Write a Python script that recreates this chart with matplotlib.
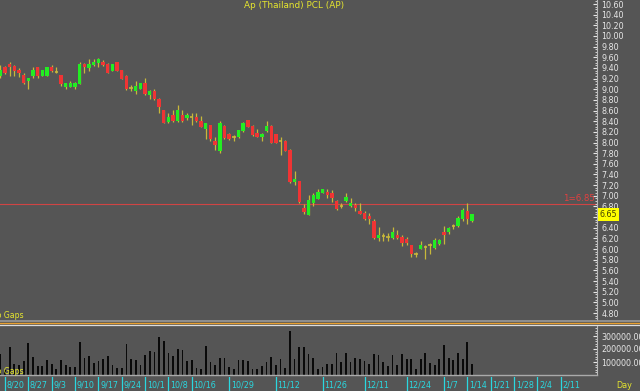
import numpy as np
import matplotlib
matplotlib.use("Agg")
import matplotlib.pyplot as plt
from matplotlib.lines import Line2D

# --- Data ---------------------------------------------------------------------
# trading-day index (0 = 8/20)
days = list(range(-1, 101))

opens = [9.25, 9.41, 9.47, 9.43, 9.36, 9.27, 9.16, 9.25, 9.41, 9.25, 9.25, 9.41, 9.33,
         9.27, 9.04, 9.04, 9.04, 9.10, 9.47, 9.39, 9.46, 9.49, 9.52, 9.47, 9.34, 9.52,
         9.36, 9.25, 9.03, 8.96, 9.00, 9.11, 8.89, 8.96, 8.82, 8.61, 8.39, 8.51, 8.41,
         8.51, 8.46, 8.48, 8.47, 8.41, 8.25, 8.32, 8.02, 7.85, 8.31, 8.16, 8.10, 8.10,
         8.21, 8.43, 8.31, 8.17, 8.10, 8.21, 8.31, 8.16, 8.02, 8.02, 7.86, 7.25, 7.27,
         6.77, 6.64, 6.86, 6.94, 7.06, 7.08, 7.06, 6.91, 6.81, 6.91, 6.80, 6.83, 6.72,
         6.68, 6.63, 6.52, 6.21, 6.24, 6.23, 6.21, 6.27, 6.23, 6.18, 6.07, 5.91, 6.01,
         6.04, 6.08, 6.02, 6.09, 6.32, 6.33, 6.44, 6.44, 6.57, 6.72, 6.52]
highs = [9.46, 9.43, 9.52, 9.46, 9.39, 9.30, 9.22, 9.41, 9.42, 9.36, 9.41, 9.46, 9.42,
         9.27, 9.12, 9.16, 9.14, 9.52, 9.49, 9.56, 9.56, 9.58, 9.55, 9.50, 9.47, 9.52,
         9.36, 9.27, 9.08, 9.16, 9.12, 9.21, 8.98, 9.00, 8.83, 8.61, 8.55, 8.61, 8.71,
         8.61, 8.55, 8.55, 8.55, 8.50, 8.37, 8.33, 8.11, 8.41, 8.33, 8.17, 8.14, 8.24,
         8.38, 8.43, 8.33, 8.25, 8.17, 8.41, 8.33, 8.16, 8.11, 8.04, 7.87, 7.46, 7.28,
         6.85, 7.02, 7.05, 7.12, 7.13, 7.12, 7.11, 6.92, 6.86, 7.06, 6.96, 6.86, 6.86,
         6.71, 6.68, 6.56, 6.41, 6.31, 6.31, 6.41, 6.36, 6.27, 6.23, 6.08, 5.95, 6.16,
         6.08, 6.12, 6.21, 6.19, 6.43, 6.41, 6.48, 6.62, 6.78, 6.86, 6.66]
lows = [9.21, 9.29, 9.25, 9.25, 9.23, 9.09, 9.00, 9.21, 9.21, 9.25, 9.25, 9.33, 9.31,
        9.06, 9.00, 9.04, 9.00, 9.10, 9.31, 9.35, 9.43, 9.41, 9.43, 9.30, 9.34, 9.34,
        9.19, 8.99, 8.96, 8.91, 9.00, 8.90, 8.81, 8.80, 8.56, 8.36, 8.36, 8.39, 8.39,
        8.39, 8.42, 8.33, 8.39, 8.29, 8.06, 8.02, 7.86, 7.81, 8.06, 8.04, 8.02, 8.08,
        8.20, 8.29, 8.12, 8.10, 8.02, 8.19, 8.00, 8.00, 7.77, 7.84, 7.24, 7.21, 6.87,
        6.66, 6.64, 6.81, 6.94, 7.05, 6.96, 6.88, 6.74, 6.77, 6.89, 6.79, 6.71, 6.65,
        6.55, 6.48, 6.19, 6.16, 6.16, 6.16, 6.18, 6.19, 6.06, 6.08, 5.86, 5.86, 6.00,
        5.82, 5.91, 6.00, 6.07, 6.09, 6.28, 6.37, 6.42, 6.53, 6.47, 6.50]
closes = [9.36, 9.30, 9.41, 9.35, 9.30, 9.11, 9.22, 9.36, 9.25, 9.36, 9.41, 9.35, 9.33,
          9.10, 9.11, 9.11, 9.11, 9.47, 9.41, 9.47, 9.52, 9.56, 9.46, 9.30, 9.47, 9.34,
          9.19, 9.00, 9.03, 9.07, 9.12, 8.91, 8.97, 8.81, 8.66, 8.36, 8.47, 8.41, 8.61,
          8.41, 8.51, 8.48, 8.41, 8.30, 8.36, 8.06, 7.96, 8.36, 8.08, 8.06, 8.10, 8.23,
          8.37, 8.30, 8.14, 8.11, 8.16, 8.31, 8.00, 8.00, 8.02, 7.85, 7.25, 7.31, 6.89,
          6.69, 6.92, 7.02, 7.08, 7.12, 7.02, 6.96, 6.75, 6.81, 6.97, 6.86, 6.77, 6.66,
          6.56, 6.57, 6.21, 6.27, 6.24, 6.23, 6.32, 6.21, 6.11, 6.11, 5.91, 5.91, 6.07,
          6.04, 6.08, 6.17, 6.17, 6.27, 6.39, 6.44, 6.59, 6.74, 6.57, 6.65]
volumes = [159, 40, 218, 82, 74, 108, 249, 138, 69, 69, 113, 87, 49, 115, 74, 62, 62,
           254, 133, 146, 95, 105, 121, 146, 74, 51, 51, 241, 126, 115, 77, 154, 185,
           179, 292, 262, 167, 146, 203, 190, 108, 115, 56, 49, 221, 103, 74, 128, 128,
           64, 44, 115, 115, 108, 49, 44, 69, 100, 141, 77, 121, 56, 338, 126, 218, 218,
           159, 128, 49, 64, 82, 82, 172, 103, 167, 100, 133, 121, 108, 82, 164, 151,
           100, 69, 154, 74, 159, 121, 121, 44, 121, 172, 90, 77, 121, 228, 133, 115,
           167, 126, 254, 87]  # thousands of shares

tick_labels = ['8/20', '8/27', '9/3', '9/10', '9/17', '9/24', '10/1', '10/8', '10/16',
               '10/29', '11/12', '11/26', '12/11', '12/24', '1/7', '1/14', '1/21',
               '1/28', '2/4', '2/11']
tick_days = [0, 5, 10, 15, 20, 25, 30, 35, 40, 48, 58, 68, 77, 86, 94, 99, 104,
             109, 114, 119]

price_ticks = np.round(np.arange(4.8, 10.61, 0.2), 2)
vol_ticks = [100000, 200000, 300000]
last_price = 6.65
line_level = 6.85

# --- Styling ------------------------------------------------------------------
BG = '#555555'
UP = '#22ee22'
DOWN = '#f03434'
WICK = '#c8b83a'
YELLOW = '#e6e62e'
CYAN = '#2ad8e0'
LABEL = '#e6e6e6'
FS = 5.8

W, H = 640.0, 391.0
fig = plt.figure(figsize=(6.4, 3.91), dpi=100, facecolor=BG)

def rect(x0, y0, x1, y1):
    return [x0 / W, 1 - y1 / H, (x1 - x0) / W, (y1 - y0) / H]

xlim = (-5 / 4.67, (597 - 5) / 4.67)

ax_p = fig.add_axes(rect(0, 0, 597, 320), facecolor=BG)
ax_v = fig.add_axes(rect(0, 326, 597, 375), facecolor=BG)
ax_d = fig.add_axes(rect(0, 377, 597, 391), facecolor=BG)

x = np.array(days)
o = np.array(opens); h = np.array(highs); l = np.array(lows); c = np.array(closes)

# --- Price candles ------------------------------------------------------------
ax_p.vlines(x, l, h, colors=WICK, lw=0.9, zorder=2)
body_lo = np.minimum(o, c)
body_h = np.abs(c - o)
colors = [UP if cc > oo else DOWN for oo, cc in zip(o, c)]
is_body = body_h > 0.001
ax_p.bar(x[is_body], body_h[is_body], bottom=body_lo[is_body], width=0.72,
         color=np.array(colors)[is_body], linewidth=0, zorder=3)
doji = ~is_body
ax_p.hlines(o[doji], x[doji] - 0.36, x[doji] + 0.36, colors=WICK, lw=1.2, zorder=3)

ax_p.axhline(line_level, color='#d04444', lw=0.8, zorder=1)
ax_p.text(0.997, line_level + 0.015, '1=6.85', transform=ax_p.get_yaxis_transform(),
          ha='right', va='bottom', color='#e24040', fontsize=6.2)

ax_p.set_xlim(*xlim)
ax_p.set_ylim(10.60 - (320 - 4) / 53.28, 10.60 + 4 / 53.28)
ax_p.set_yticks(price_ticks)
ax_p.set_yticklabels([f'{v:.2f}' for v in price_ticks])
ax_p.set_yticks(np.arange(4.7, 10.7, 0.05), minor=True)
ax_p.yaxis.tick_right()
ax_p.tick_params(axis='y', which='major', colors=LABEL, labelsize=FS, length=3,
                 direction='in', pad=3)
ax_p.tick_params(axis='y', which='minor', colors=LABEL, length=1.5, direction='in')
ax_p.set_xticks([])
for s in ['left', 'top', 'bottom']:
    ax_p.spines[s].set_visible(False)
ax_p.spines['right'].set_color('#bbbbbb')
ax_p.spines['right'].set_linewidth(0.8)

ax_p.text(1.004, last_price, f'{last_price:.2f}', transform=ax_p.get_yaxis_transform(),
          ha='left', va='center', fontsize=FS, color='#444400', zorder=10, clip_on=False,
          bbox=dict(boxstyle='square,pad=0.2', fc='#ffff00', ec='none'))

fig.text(294 / W, 1 - 5 / H, 'Ap (Thailand) PCL (AP)', ha='center', va='center',
         color=YELLOW, fontsize=6.4)
fig.text(24 / W, 1 - 316 / H, 'No Gaps', ha='right', va='center', color=YELLOW,
         fontsize=5.6)

# --- Volume -------------------------------------------------------------------
ax_v.bar(x, np.array(volumes) * 1000, width=0.38, color='#0a0a0a', linewidth=0)
ax_v.set_xlim(*xlim)
ax_v.set_ylim(0, (375 - 326) / 13.0 * 1e5)
ax_v.set_yticks(vol_ticks)
ax_v.set_yticklabels([f'{v:.2f}' for v in vol_ticks])
ax_v.set_yticks(np.arange(20000, 380000, 20000), minor=True)
ax_v.yaxis.tick_right()
ax_v.tick_params(axis='y', which='major', colors=LABEL, labelsize=FS, length=3,
                 direction='in', pad=3)
ax_v.tick_params(axis='y', which='minor', colors=LABEL, length=1.5, direction='in')
ax_v.set_xticks([])
for s in ['left', 'top']:
    ax_v.spines[s].set_visible(False)
ax_v.spines['right'].set_color('#bbbbbb')
ax_v.spines['right'].set_linewidth(0.8)
ax_v.spines['bottom'].set_color('#aaaaaa')
ax_v.spines['bottom'].set_linewidth(1.0)
ax_v.text(294, 0.86, 'Volume', transform=ax_v.get_xaxis_transform(),
          ha='center', va='center', color='#e8a030', fontsize=6.4)
fig.text(24 / W, 1 - 372 / H, 'No Gaps', ha='right', va='center', color=YELLOW,
         fontsize=5.6)

# panel splitter
for yy, col, lw in [(321.0, '#9a9a9a', 1.2), (323.2, '#e8a030', 1.0), (325.0, '#dddddd', 0.9)]:
    fig.add_artist(Line2D([0, 1], [1 - yy / H, 1 - yy / H], transform=fig.transFigure,
                          color=col, lw=lw))

# --- Date strip ---------------------------------------------------------------
ax_d.set_xlim(*xlim)
ax_d.set_ylim(0, 1)
ax_d.axis('off')
for pos, lab in zip(tick_days, tick_labels):
    ax_d.axvline(pos, color=CYAN, lw=0.9)
    ax_d.text(pos + 0.35, 0.45, lab, ha='left', va='center', color=CYAN, fontsize=FS)
fig.text(616 / W, 1 - 385 / H, 'Day', ha='left', va='center', color=YELLOW, fontsize=FS)

fig.savefig('out.png', dpi=100, facecolor=BG)
